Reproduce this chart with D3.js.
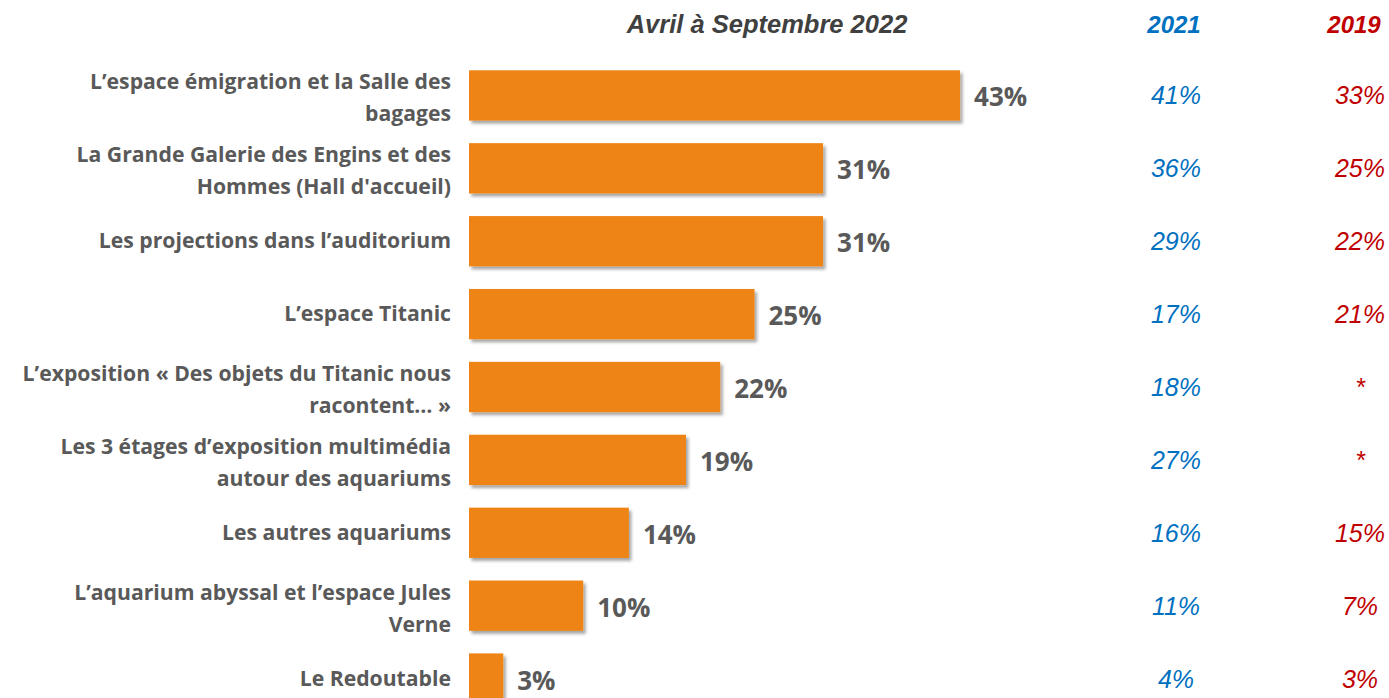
<!DOCTYPE html>
<html>
<head>
<meta charset="utf-8">
<script src="https://cdn.jsdelivr.net/npm/d3@7"></script>
<style>
  body { margin: 0; background: #fff; }
  svg { display: block; }
</style>
</head>
<body>
<div id="chart"></div>
<script>
// data
var categories = [
  ["L\u2019espace \u00e9migration et la Salle des", "bagages"],
  ["La Grande Galerie des Engins et des", "Hommes (Hall d'accueil)"],
  ["Les projections dans l\u2019auditorium"],
  ["L\u2019espace Titanic"],
  ["L\u2019exposition \u00ab Des objets du Titanic nous", "racontent\u2026 \u00bb"],
  ["Les 3 \u00e9tages d\u2019exposition multim\u00e9dia", "autour des aquariums"],
  ["Les autres aquariums"],
  ["L\u2019aquarium abyssal et l\u2019espace Jules", "Verne"],
  ["Le Redoutable"]
];
var values2022 = [43, 31, 31, 25, 22, 19, 14, 10, 3];
var values2021 = ["41%", "36%", "29%", "17%", "18%", "27%", "16%", "11%", "4%"];
var values2019 = ["33%", "25%", "22%", "21%", "*", "*", "15%", "7%", "3%"];
var headers = ["Avril \u00e0 Septembre 2022", "2021", "2019"];

var width = 1389, height = 698;

var svg = d3.select("#chart")
  .append("svg")
  .attr("width", width)
  .attr("height", height);

//shadow
var defs = svg.append("defs");
defs.append("filter")
  .attr("id", "shadow")
  .attr("x", "-10%").attr("y", "-20%")
  .attr("width", "130%").attr("height", "160%")
  .append("feDropShadow")
  .attr("dx", 2.5).attr("dy", 3)
  .attr("stdDeviation", 1.8)
  .attr("flood-color", "#000")
  .attr("flood-opacity", 0.35);

//scales
var idx = d3.range(categories.length);

var yScale = d3.scaleBand()
  .domain(idx)
  .range([59, 715])
  .paddingInner(0.31)
  .paddingOuter(0.155);

var xScale = d3.scaleLinear()
  .domain([0, 100])
  .range([469, 469 + 1142]);

//bars
svg.selectAll(".bar")
  .data(values2022)
  .enter().append("rect")
  .attr("class", "bar")
  .attr("x", xScale(0))
  .attr("y", function (d, i) { return yScale(i); })
  .attr("width", function (d) { return xScale(d) - xScale(0); })
  .attr("height", yScale.bandwidth())
  .attr("fill", "#EE8414")
  .attr("filter", "url(#shadow)");

//value labels
svg.selectAll(".val")
  .data(values2022)
  .enter().append("text")
  .attr("class", "val")
  .attr("x", function (d) { return xScale(d) + 14; })
  .attr("y", function (d, i) { return yScale(i) + yScale.bandwidth() / 2 + 11; })
  .attr("font-family", "'Open Sans', sans-serif")
  .attr("font-weight", "bold")
  .attr("font-size", 26)
  .attr("fill", "#595959")
  .text(function (d) { return d + "%"; });

//category labels
var labels = svg.selectAll(".cat")
  .data(categories)
  .enter().append("text")
  .attr("class", "cat")
  .attr("text-anchor", "end")
  .attr("font-family", "'Open Sans', sans-serif")
  .attr("font-weight", "bold")
  .attr("font-size", 21.2)
  .attr("fill", "#595959");

labels.each(function (lines, i) {
  var cy = yScale(i) + yScale.bandwidth() / 2;
  var top = cy - (lines.length - 1) * 16 + (lines.length - 1) * 3;
  d3.select(this).selectAll("tspan")
    .data(lines)
    .enter().append("tspan")
    .attr("x", 451)
    .attr("y", function (l, j) { return top + j * 32 + 7; })
    .text(function (l) { return l; });
});

//headers
var headerX = [767, 1174, 1354];
var headerSize = [25.5, 24, 24];
var headerColor = ["#404040", "#0070C0", "#C00000"];
svg.selectAll(".head")
  .data(headers)
  .enter().append("text")
  .attr("class", "head")
  .attr("x", function (d, i) { return headerX[i]; })
  .attr("y", 33)
  .attr("text-anchor", "middle")
  .attr("font-family", "'Liberation Sans', Arial, sans-serif")
  .attr("font-style", "italic")
  .attr("font-weight", "bold")
  .attr("font-size", function (d, i) { return headerSize[i]; })
  .attr("fill", function (d, i) { return headerColor[i]; })
  .text(function (d) { return d; });

//2021 column
svg.selectAll(".v21")
  .data(values2021)
  .enter().append("text")
  .attr("class", "v21")
  .attr("x", 1176)
  .attr("y", function (d, i) { return yScale(i) + yScale.bandwidth() / 2 + 9; })
  .attr("text-anchor", "middle")
  .attr("font-family", "'Liberation Sans', Arial, sans-serif")
  .attr("font-style", "italic")
  .attr("font-size", 25)
  .attr("fill", "#0070C0")
  .text(function (d) { return d; });

//2019 column
svg.selectAll(".v19")
  .data(values2019)
  .enter().append("text")
  .attr("class", "v19")
  .attr("x", 1360)
  .attr("y", function (d, i) { return yScale(i) + yScale.bandwidth() / 2 + 9; })
  .attr("text-anchor", "middle")
  .attr("font-family", "'Liberation Sans', Arial, sans-serif")
  .attr("font-style", "italic")
  .attr("font-size", 25)
  .attr("fill", "#C00000")
  .text(function (d) { return d; });
</script>
</body>
</html>
